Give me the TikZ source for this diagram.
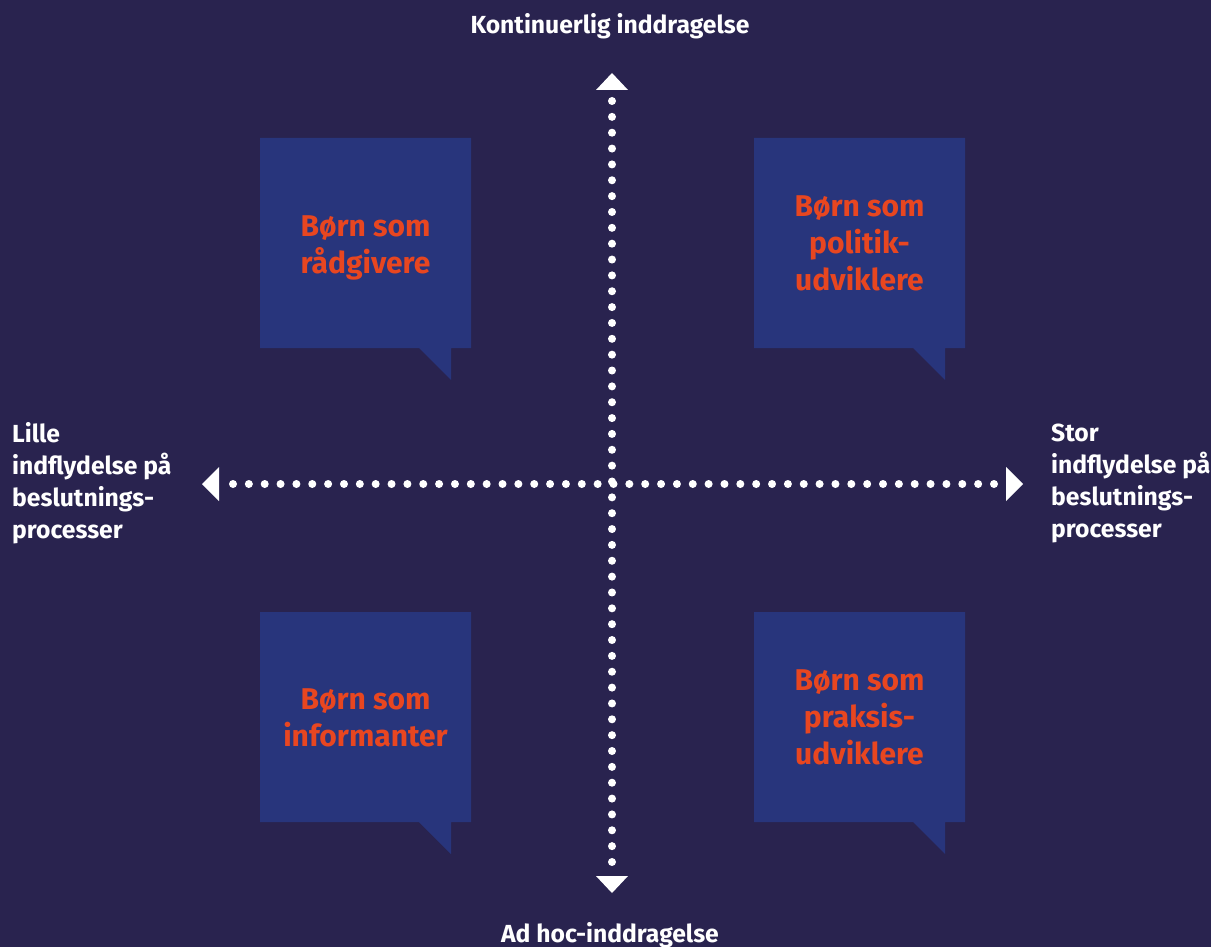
\documentclass[tikz,border=0pt]{standalone}
\usepackage{fontspec}
\setmainfont{Fira Sans}[UprightFont={* Bold}]
\definecolor{bgnavy}{HTML}{29234F}
\definecolor{boxblue}{HTML}{28357C}
\definecolor{txtorange}{HTML}{E84620}
\tikzset{
  bubble/.style={fill=boxblue, draw=none},
  bubbletext/.style={text=txtorange, align=center, font=\fontsize{30}{37}\selectfont, inner sep=0pt},
  axislabel/.style={text=white, font=\fontsize{24.7}{32}\selectfont, inner sep=0pt},
  dotline/.style={draw=white, line width=8pt, line cap=round, dash pattern=on 0pt off 15.854pt},
  arrowhead/.style={fill=white, draw=none}
}
\begin{document}
\begin{tikzpicture}[x=1pt,y=-1pt]
\useasboundingbox (0,0) rectangle (1211,947);
\fill[bgnavy] (0,0) rectangle (1211,947);

% speech bubbles
\foreach \bx/\by/\nm in {260/138/tl, 754/138/tr, 260/612/bl, 754/612/br}{
  \fill[bubble] (\bx,\by) -- ++(211,0) -- ++(0,210) -- ++(-20,0) -- ++(0,32) -- ++(-32,-32) -- (\bx,\by+210) -- cycle;
  \coordinate (\nm) at (\bx+105.5,\by+105.5);
}
\node[bubbletext] (t1) at ([yshift=-4pt]tl) {Børn som\\rådgivere};
\node[bubbletext] (t2) at (tr) {Børn som\\politik-\\udviklere};
\node[bubbletext] (t3) at (bl) {Børn som\\informanter};
\node[bubbletext] (t4) at (br) {Børn som\\praksis-\\udviklere};

% axes
\coordinate (vtop) at (612,101);
\coordinate (vbot) at (612,862.2);
\coordinate (hleft) at (233,484);
\coordinate (hright) at (994.2,484);
\draw[dotline] (vtop) -- (vbot);
\draw[dotline] (hleft) -- (hright);

\fill[arrowhead] (596,90) -- (612,73) -- (628,90) -- cycle;
\fill[arrowhead] (596,876) -- (612,893) -- (628,876) -- cycle;
\fill[arrowhead] (219,467) -- (202,484) -- (219,501) -- cycle;
\fill[arrowhead] (1006,467) -- (1023,484) -- (1006,501) -- cycle;

% labels
\node[axislabel] (ltop) at (610,26) {Kontinuerlig inddragelse};
\node[axislabel] (lbot) at (610,935) {Ad hoc-inddragelse};
\node[axislabel, align=left, anchor=west] (lleft) at (12,483) {Lille\\indflydelse på\\beslutnings-\\processer};
\node[axislabel, align=left, anchor=west] (lright) at (1051,483) {Stor\\indflydelse på\\beslutnings-\\processer};
\end{tikzpicture}
\end{document}
